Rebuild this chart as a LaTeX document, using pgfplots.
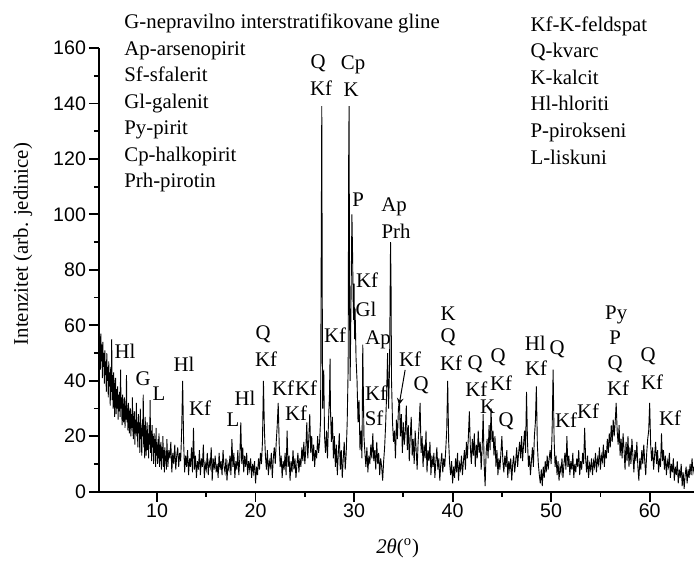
\documentclass[border=0pt]{standalone}
\usepackage{pgfplots}
\pgfplotsset{compat=1.18}
\usepackage{fontspec}
\setmainfont{Liberation Serif}
\newfontfamily\tickfont{Liberation Sans}
\tikzset{lab/.style={font=\fontsize{10.4}{12}\selectfont, inner sep=0pt}}
\begin{document}
\begin{tikzpicture}
\useasboundingbox (-49.5pt,-35.15pt) rectangle (297.5pt,245.85pt);
\begin{axis}[
  scale only axis, width=297.5pt, height=221.85pt,
  xmin=4.11, xmax=64.5, ymin=0, ymax=160,
  axis x line=bottom, axis y line=left,
  axis line style={-, line width=1pt},
  tick align=outside,
  major tick length=5pt, minor tick length=2.5pt,
  every tick/.style={line width=0.9pt, black},
  xtick={10,20,...,60}, ytick={0,20,...,160},
  minor x tick num=1, minor y tick num=1,
  tick label style={font=\fontsize{9.8}{11}\tickfont},
  xticklabel style={yshift=2.5pt},
  yticklabel style={xshift=2pt},
  /pgf/number format/assume math mode=true,
  xlabel={{\itshape 2θ}(\textsuperscript{o})},
  ylabel={Intenzitet (arb. jedinice)},
  xlabel style={at={(axis description cs:0.502,-0.127)}, anchor=center, font=\fontsize{10.4}{12}\selectfont},
  ylabel style={at={(axis description cs:-0.128,0.558)}, anchor=center, font=\fontsize{10.4}{12}\selectfont},
  clip=false,
]
\addplot[black, line width=0.45pt, mark=none] coordinates {
(4.10,63)(4.15,48)(4.20,56)(4.25,44)(4.30,57)(4.35,47)(4.40,53)(4.45,41)(4.50,54)(4.55,45)(4.60,50)(4.65,39)(4.70,51)(4.75,42)(4.80,47)(4.85,36)(4.90,50)(4.95,40)(5.00,45)
(5.05,34)(5.10,47)(5.15,38)(5.20,43)(5.25,31)(5.30,45)(5.35,36)(5.40,55)(5.45,33)(5.50,42)(5.55,30)(5.60,43)(5.65,35)(5.70,27)(5.75,39)(5.80,41)(5.85,28)(5.90,37)(5.95,30)(6.00,38)
(6.05,26)(6.10,35)(6.15,29)(6.20,36)(6.25,27)(6.30,44)(6.35,30)(6.40,34)(6.45,24)(6.50,35)(6.55,28)(6.60,25)(6.65,33)(6.70,34)(6.75,23)(6.80,31)(6.85,26)(6.90,42)(6.95,25)(7.00,30)
(7.05,22)(7.10,32)(7.15,25)(7.20,21)(7.25,29)(7.30,30)(7.35,20)(7.40,28)(7.45,23)(7.50,34)(7.55,22)(7.60,19)(7.65,27)(7.70,29)(7.75,17)(7.80,26)(7.85,21)(7.90,32)(7.95,20)(8.00,25)
(8.05,16)(8.10,28)(8.15,21)(8.20,25)(8.25,14)(8.30,30)(8.35,19)(8.40,23)(8.45,13)(8.50,26)(8.55,20)(8.60,35)(8.65,16)(8.70,24)(8.75,12)(8.80,27)(8.85,18)(8.90,13)(8.95,22)(9.00,25)
(9.05,15)(9.10,21)(9.15,12)(9.20,24)(9.25,17)(9.30,33)(9.35,14)(9.40,22)(9.45,11)(9.50,24)(9.55,16)(9.60,20)(9.65,10)(9.70,21)(9.75,14)(9.80,19)(9.85,9)(9.90,23)(9.95,13)(10.00,17)
(10.05,10)(10.10,19)(10.15,12)(10.20,21)(10.25,9)(10.30,17)(10.35,11)(10.40,18)(10.45,8)(10.50,16)(10.55,12)(10.60,20)(10.65,9)(10.70,15)(10.75,7)(10.80,16)(10.85,11)(10.90,13)(10.95,8)(11.00,19)
(11.1,9)(11.2,15)(11.3,12)(11.4,18)(11.5,7)(11.6,14)(11.7,10)(11.8,17)(11.9,8)(12.0,13)
(12.1,16)(12.2,9)(12.3,14)(12.4,11)(12.5,22)(12.6,40)(12.7,18)(12.8,7)(12.9,13)(13.0,9)
(13.1,15)(13.2,6)(13.3,12)(13.4,9)(13.5,16)(13.6,7)(13.7,23)(13.8,8)(13.9,13)(14.0,5)
(14.1,11)(14.2,8)(14.3,15)(14.4,6)(14.5,12)(14.6,9)(14.7,17)(14.8,5)(14.9,10)(15.0,8)
(15.1,14)(15.2,6)(15.3,11)(15.4,9)(15.5,16)(15.6,4)(15.7,12)(15.8,8)(15.9,13)(16.0,7)
(16.1,10)(16.2,5)(16.3,14)(16.4,8)(16.5,11)(16.6,6)(16.7,15)(16.8,9)(16.9,7)(17.0,12)
(17.1,4)(17.2,10)(17.3,8)(17.4,13)(17.5,6)(17.6,19)(17.7,9)(17.8,14)(17.9,5)(18.0,11)
(18.1,8)(18.2,15)(18.3,6)(18.4,12)(18.5,25)(18.6,10)(18.7,16)(18.8,7)(18.9,13)(19.0,9)
(19.1,14)(19.2,6)(19.3,11)(19.4,8)(19.5,12)(19.6,5)(19.7,10)(19.8,7)(19.9,11)(20.0,3)
(20.1,9)(20.2,6)(20.3,12)(20.4,8)(20.5,14)(20.6,10)(20.7,18)(20.8,40)(20.9,22)(21.0,13)
(21.1,8)(21.2,15)(21.3,6)(21.4,11)(21.5,9)(21.6,14)(21.7,5)(21.8,12)(21.9,16)(22.0,10)
(22.1,18)(22.2,24)(22.3,32)(22.4,17)(22.5,9)(22.6,13)(22.7,5)(22.8,11)(22.9,8)(23.0,14)
(23.1,6)(23.2,22)(23.3,9)(23.4,13)(23.5,4)(23.6,11)(23.7,7)(23.8,15)(23.9,8)(24.0,12)
(24.1,5)(24.2,10)(24.3,14)(24.4,7)(24.5,12)(24.6,9)(24.7,16)(24.8,11)(24.9,18)(25.0,10)
(25.1,15)(25.2,25)(25.3,12)(25.4,19)(25.5,28)(25.6,14)(25.7,20)(25.8,11)(25.9,17)(26.0,9)
(26.1,15)(26.2,12)(26.3,20)(26.4,14)(26.5,18)(26.6,26)(26.72,139)(26.8,30)(26.92,44)(27.0,20)
(27.1,14)(27.2,22)(27.3,12)(27.4,25)(27.5,35)(27.56,48)(27.6,30)(27.7,18)(27.8,27)(27.9,12)
(28.0,20)(28.1,9)(28.2,17)(28.3,6)(28.4,14)(28.5,21)(28.6,8)(28.7,15)(28.8,5)(28.9,12)
(29.0,18)(29.1,8)(29.2,14)(29.3,25)(29.4,45)(29.45,120)(29.49,139)(29.55,60)(29.6,40)(29.7,72)
(29.78,100)(29.85,85)(29.9,70)(29.95,62)(30.0,75)(30.05,55)(30.1,66)(30.2,48)(30.3,40)(30.4,25)
(30.5,33)(30.6,15)(30.7,22)(30.8,12)(30.88,53)(31.0,20)
(31.1,14)(31.2,9)(31.3,16)(31.4,7)(31.5,13)(31.6,10)(31.7,17)(31.8,12)(31.9,21)(32.0,11)
(32.1,15)(32.2,8)(32.3,18)(32.4,10)(32.5,14)(32.6,6)(32.7,12)(32.8,9)(32.9,4)(33.0,11)
(33.1,16)(33.2,24)(33.3,35)(33.4,50)(33.5,30)(33.6,45)(33.7,90)(33.75,75)(33.8,40)(33.9,25)(34.0,18)
(34.1,22)(34.2,12)(34.3,26)(34.4,19)(34.5,30)(34.6,33)(34.7,20)(34.8,28)(34.9,14)(35.0,25)
(35.1,17)(35.2,22)(35.3,31)(35.4,15)(35.5,24)(35.6,11)(35.7,20)(35.8,27)(35.9,13)(36.0,19)
(36.1,10)(36.2,22)(36.3,15)(36.4,8)(36.5,18)(36.6,24)(36.7,32)(36.8,14)(36.9,20)(37.0,9)
(37.1,17)(37.2,12)(37.3,22)(37.4,7)(37.5,15)(37.6,11)(37.7,18)(37.8,6)(37.9,13)(38.0,9)
(38.1,14)(38.2,5)(38.3,11)(38.4,16)(38.5,8)(38.6,12)(38.7,4)(38.8,10)(38.9,14)(39.0,7)
(39.1,12)(39.2,9)(39.3,15)(39.4,22)(39.5,40)(39.6,18)(39.7,10)(39.8,6)(39.9,11)(40.0,3)
(40.1,9)(40.2,5)(40.3,12)(40.4,7)(40.5,14)(40.6,4)(40.7,10)(40.8,8)(40.9,13)(41.0,6)
(41.1,11)(41.2,15)(41.3,8)(41.4,18)(41.5,12)(41.6,20)(41.7,29)(41.8,16)(41.9,10)(42.0,19)
(42.1,13)(42.2,21)(42.3,9)(42.4,17)(42.5,12)(42.6,22)(42.7,14)(42.8,18)(42.9,8)(43.0,16)
(43.1,28)(43.2,10)(43.3,2)(43.4,14)(43.5,19)(43.6,12)(43.7,24)(43.8,15)(43.9,30)(44.0,18)
(44.1,22)(44.2,13)(44.3,20)(44.4,9)(44.5,15)(44.6,6)(44.7,12)(44.8,8)(44.9,14)(45.0,20)
(45.1,11)(45.2,7)(45.3,13)(45.4,9)(45.5,15)(45.6,5)(45.7,11)(45.8,8)(45.9,12)(46.0,4)
(46.1,10)(46.2,13)(46.3,7)(46.4,11)(46.5,16)(46.6,9)(46.7,14)(46.8,18)(46.9,12)(47.0,20)
(47.1,11)(47.2,17)(47.3,22)(47.4,14)(47.5,36)(47.6,18)(47.7,9)(47.8,13)(47.9,6)(48.0,11)
(48.1,16)(48.2,9)(48.3,20)(48.4,25)(48.5,38)(48.6,17)(48.7,10)(48.8,6)(48.9,3)(49.0,8)
(49.1,2)(49.2,9)(49.3,5)(49.4,11)(49.5,7)(49.6,13)(49.7,8)(49.8,12)(49.9,15)(50.0,10)
(50.1,22)(50.2,44)(50.3,19)(50.4,9)(50.5,13)(50.6,6)(50.7,11)(50.8,4)(50.9,9)(51.0,7)
(51.1,12)(51.2,5)(51.3,10)(51.4,14)(51.5,8)(51.6,20)(51.7,9)(51.8,13)(51.9,6)(52.0,11)
(52.1,8)(52.2,14)(52.3,5)(52.4,10)(52.5,7)(52.6,12)(52.7,9)(52.8,15)(52.9,6)(53.0,11)
(53.1,8)(53.2,14)(53.3,10)(53.4,23)(53.5,12)(53.6,7)(53.7,13)(53.8,5)(53.9,10)(54.0,8)
(54.1,12)(54.2,6)(54.3,11)(54.4,9)(54.5,14)(54.6,7)(54.7,12)(54.8,10)(54.9,16)(55.0,8)
(55.1,13)(55.2,11)(55.3,17)(55.4,9)(55.5,15)(55.6,12)(55.7,19)(55.8,14)(55.9,21)(56.0,16)
(56.1,24)(56.2,18)(56.3,26)(56.4,20)(56.5,25)(56.6,32)(56.7,22)(56.8,17)(56.9,24)(57.0,13)
(57.1,19)(57.2,12)(57.3,21)(57.4,15)(57.5,8)(57.6,18)(57.7,11)(57.8,20)(57.9,9)(58.0,16)
(58.1,10)(58.2,19)(58.3,13)(58.4,7)(58.5,15)(58.6,11)(58.7,18)(58.8,9)(58.9,4)(59.0,12)
(59.1,8)(59.2,15)(59.3,10)(59.4,17)(59.5,11)(59.6,6)(59.7,14)(59.8,19)(59.9,22)(60.0,32)
(60.1,17)(60.2,11)(60.3,16)(60.4,8)(60.5,13)(60.6,18)(60.7,10)(60.8,15)(60.9,7)(61.0,12)
(61.1,9)(61.2,21)(61.3,11)(61.4,15)(61.5,8)(61.6,13)(61.7,6)(61.8,11)(61.9,9)(62.0,14)
(62.1,5)(62.2,10)(62.3,7)(62.4,12)(62.5,4)(62.6,9)(62.7,6)(62.8,11)(62.9,3)(63.0,8)
(63.1,5)(63.2,10)(63.3,2)(63.4,7)(63.5,1)(63.6,6)(63.7,9)(63.8,3)(63.9,8)(64.0,5)
(64.1,10)(64.2,6)(64.3,12)(64.4,7)(64.5,9)
};
% legend-like lists
\node[lab, anchor=base west] at (axis cs:6.65,167.0) {G-nepravilno interstratifikovane gline};
\node[lab, anchor=base west] at (axis cs:6.65,157.4) {Ap-arsenopirit};
\node[lab, anchor=base west] at (axis cs:6.65,147.9) {Sf-sfalerit};
\node[lab, anchor=base west] at (axis cs:6.65,138.3) {Gl-galenit};
\node[lab, anchor=base west] at (axis cs:6.65,128.8) {Py-pirit};
\node[lab, anchor=base west] at (axis cs:6.65,119.2) {Cp-halkopirit};
\node[lab, anchor=base west] at (axis cs:6.65,109.6) {Prh-pirotin};
\node[lab, anchor=base west] at (axis cs:47.87,166.0) {Kf-K-feldspat};
\node[lab, anchor=base west] at (axis cs:47.87,156.4) {Q-kvarc};
\node[lab, anchor=base west] at (axis cs:47.87,146.8) {K-kalcit};
\node[lab, anchor=base west] at (axis cs:47.87,137.3) {Hl-hloriti};
\node[lab, anchor=base west] at (axis cs:47.87,127.7) {P-pirokseni};
\node[lab, anchor=base west] at (axis cs:47.87,118.1) {L-liskuni};
% peak labels
\node[lab] at (axis cs:6.75,50.8) {Hl};
\node[lab] at (axis cs:8.58,40.7) {G};
\node[lab] at (axis cs:10.2,35.3) {L};
\node[lab] at (axis cs:12.74,46.1) {Hl};
\node[lab] at (axis cs:14.37,30.2) {Kf};
\node[lab] at (axis cs:17.72,25.9) {L};
\node[lab] at (axis cs:18.93,33.8) {Hl};
\node[lab] at (axis cs:20.76,56.6) {Q};
\node[lab] at (axis cs:21.07,47.9) {Kf};
\node[lab] at (axis cs:22.79,37.4) {Kf};
\node[lab] at (axis cs:25.13,37.4) {Kf};
\node[lab] at (axis cs:24.11,28.4) {Kf};
\node[lab] at (axis cs:28.07,56.6) {Kf};
\node[lab] at (axis cs:26.35,154.4) {Q};
\node[lab] at (axis cs:26.65,145.4) {Kf};
\node[lab] at (axis cs:29.9,154.0) {Cp};
\node[lab] at (axis cs:29.7,145.0) {K};
\node[lab] at (axis cs:30.41,105.3) {P};
\node[lab] at (axis cs:34.06,102.8) {Ap};
\node[lab] at (axis cs:34.26,93.75) {Prh};
\node[lab] at (axis cs:31.32,76.1) {Kf};
\node[lab] at (axis cs:31.22,65.6) {Gl};
\node[lab] at (axis cs:32.44,54.8) {Ap};
\node[lab] at (axis cs:32.23,35.6) {Kf};
\node[lab] at (axis cs:32.03,26.6) {Sf};
\node[lab] at (axis cs:35.69,47.9) {Kf};
\draw[-stealth, line width=0.5pt] (axis cs:35.18,43.9) -- (axis cs:34.57,31.3);
\node[lab] at (axis cs:36.8,38.2) {Q};
\node[lab] at (axis cs:39.54,64.2) {K};
\node[lab] at (axis cs:39.54,55.5) {Q};
\node[lab] at (axis cs:39.85,46.5) {Kf};
\node[lab] at (axis cs:42.28,46.1) {Q};
\node[lab] at (axis cs:42.4,36.9) {Kf};
\node[lab] at (axis cs:43.55,30.5) {K};
\node[lab] at (axis cs:44.62,48.6) {Q};
\node[lab] at (axis cs:44.92,39.2) {Kf};
\node[lab] at (axis cs:45.43,25.5) {Q};
\node[lab] at (axis cs:48.38,53.7) {Hl};
\node[lab] at (axis cs:48.48,44.7) {Kf};
\node[lab] at (axis cs:50.61,51.5) {Q};
\node[lab] at (axis cs:51.52,25.9) {Kf};
\node[lab] at (axis cs:53.76,29.1) {Kf};
\node[lab] at (axis cs:56.6,63.8) {Py};
\node[lab] at (axis cs:56.5,55.5) {P};
\node[lab] at (axis cs:56.5,46.1) {Q};
\node[lab] at (axis cs:56.8,37.4) {Kf};
\node[lab] at (axis cs:59.85,49.0) {Q};
\node[lab] at (axis cs:60.25,39.6) {Kf};
\node[lab] at (axis cs:62.08,26.6) {Kf};
\end{axis}
\end{tikzpicture}
\end{document}
